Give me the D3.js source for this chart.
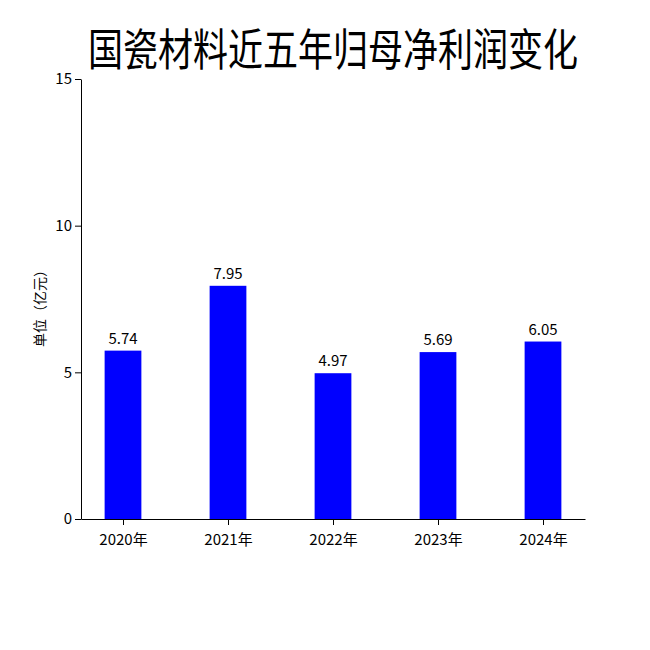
<!DOCTYPE html>
<html><head><meta charset="utf-8">
<script src="https://cdn.jsdelivr.net/npm/d3@7"></script>
<style>body{margin:0;background:#fff}text{font-family:"Noto Sans CJK SC","DejaVu Sans Condensed",sans-serif}</style>
</head><body><div id="chart"></div>
<script>
var years = ["2020年","2021年","2022年","2023年","2024年"];
var profit = [5.74,7.95,4.97,5.69,6.05];
var yTicks = [0,5,10,15];

var svg = d3.select("#chart").append("svg").attr("width",650).attr("height",650);
var x = d3.scaleLinear().domain([-0.4,4.4]).range([81,585]);
var y = d3.scaleLinear().domain([0,15]).range([519,79]);
var bw = x(0.35)-x(0);

svg.selectAll("rect").data(profit).enter().append("rect")
  .attr("x",function(d,i){return x(i)-bw/2})
  .attr("y",function(d){return y(d)})
  .attr("width",bw)
  .attr("height",function(d){return y(0)-y(d)})
  .attr("fill","#0000ff");

svg.selectAll(".lbl").data(profit).enter().append("text")
  .attr("class","lbl")
  .attr("x",function(d,i){return x(i)})
  .attr("y",function(d){return y(d)-7})
  .attr("text-anchor","middle").attr("font-size",15)
  .text(function(d){return d.toFixed(2)});

var ya = svg.append("g").attr("transform","translate(81,0)")
  .call(d3.axisLeft(y).tickValues(yTicks).tickSizeOuter(0));
var xa = svg.append("g").attr("transform","translate(0,519)")
  .call(d3.axisBottom(x).tickValues(d3.range(5)).tickFormat(function(i){return years[i]}).tickSizeOuter(0));
[ya,xa].forEach(function(a){
  a.selectAll("text").attr("font-size",15).attr("fill","#000");
  a.select(".domain").attr("stroke","#000");
});
xa.selectAll("text").attr("dy","1.1em");

svg.append("text").attr("transform","translate(45,305) rotate(-90)")
  .attr("text-anchor","middle").attr("font-size",14).text("单位（亿元）");
svg.append("text").attr("x",88).attr("y",66)
  .attr("font-size",44).attr("textLength",490).attr("lengthAdjust","spacingAndGlyphs")
  .text("国瓷材料近五年归母净利润变化");
</script></body></html>
